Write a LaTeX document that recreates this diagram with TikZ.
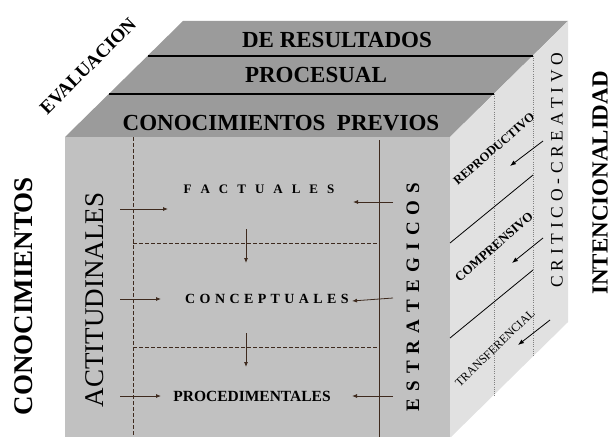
\documentclass[tikz,border=0pt]{standalone}
\usepackage{fontspec}
\setmainfont{Liberation Serif}
\usetikzlibrary{arrows.meta}

\definecolor{topgray}{RGB}{155,155,155}
\definecolor{frontgray}{RGB}{193,193,193}
\definecolor{sidegray}{RGB}{225,225,225}
\definecolor{arrowbrown}{RGB}{62,42,30}

\begin{document}
\begin{tikzpicture}[x=1pt,y=-1pt,
    flow/.style={draw=arrowbrown, line width=0.8pt, -{Latex[length=5pt,width=4pt]}},
    sideflow/.style={draw=black, line width=0.8pt, -{Latex[length=6pt,width=4.5pt]}},
    divider/.style={draw=arrowbrown, line width=0.8pt, dash pattern=on 3.5pt off 2.5pt},
    depthline/.style={draw=gray, line width=0.7pt, dash pattern=on 1pt off 1.2pt},
    toplabel/.style={font=\bfseries\fontsize{23}{27}\selectfont},
    sidelabel/.style={rotate=41, inner sep=0pt}]
    \useasboundingbox (0,0) rectangle (612,436);

    % Draw the three faces of the cube
    \fill[topgray] (65,137) -- (183,21) -- (568,21) -- (450,137) -- cycle;
    \fill[frontgray] (65,137) rectangle (450,438);
    \fill[sidegray] (450,137) -- (568,21) -- (568,322) -- (450,438) -- cycle;

    % Draw the layers of the top face
    \draw[line width=1.1pt] (148,56) -- (533,56);
    \draw[line width=1.1pt] (109,94) -- (494,94);
    \draw[depthline] (533,56) -- (533,357);
    \draw[depthline] (494,94) -- (494,397);

    % Draw the levels of the side face
    \draw[line width=0.8pt] (450,243) -- (533,175);
    \draw[line width=0.8pt] (450,338) -- (533,270);

    % Draw the columns and rows of the front face
    \draw[divider] (133,137) -- (133,438);
    \draw[arrowbrown, line width=0.8pt] (379,140) -- (379,438);
    \draw[divider] (133,243) -- (379,243);
    \draw[divider] (133,347) -- (379,347);

    % Label the top face
    \node[toplabel] (resultados) at (337,40) {DE RESULTADOS};
    \node[toplabel] (procesual) at (316,75) {PROCESUAL};
    \node[toplabel] (previos) at (281,123) {CONOCIMIENTOS\ \ PREVIOS};

    % Label the axes
    \node[rotate=90, font=\bfseries\fontsize{27}{31}\selectfont] (conocimientos) at (24,296) {CONOCIMIENTOS};
    \node[rotate=90, font=\bfseries\fontsize{23}{27}\selectfont] (intencionalidad) at (600,183) {INTENCIONALIDAD};
    \node[rotate=45, font=\bfseries\fontsize{19}{23}\selectfont] (evaluacion) at (88,66) {EVALUACION};

    % Label the front face
    \node[rotate=90, font=\fontsize{27}{31}\selectfont] (actitudinales) at (95,300) {ACTITUDINALES};
    \node[rotate=90, font=\bfseries\fontsize{19}{23}\selectfont] (estrategicos) at (413,297)
        {\spaceskip=7.2pt\relax E S T R A T E G I C O S};
    \node[font=\bfseries\fontsize{13}{15}\selectfont] (factuales) at (259,189)
        {\spaceskip=9pt\relax F A C T U A L E S};
    \node[font=\bfseries\fontsize{14}{16}\selectfont] (conceptuales) at (267,299)
        {\spaceskip=4.4pt\relax C O N C E P T U A L E S};
    \node[font=\bfseries\fontsize{15.5}{18}\selectfont] (procedimentales) at (252,396) {PROCEDIMENTALES};

    % Label the side face
    \node[rotate=90, font=\fontsize{17.5}{21}\selectfont] (critico) at (557,170)
        {\spaceskip=4.7pt\relax C R I T I C O - C R E A T I V O};
    \node[sidelabel, font=\bfseries\fontsize{12.5}{15}\selectfont] (reproductivo) at (494,149) {REPRODUCTIVO};
    \node[sidelabel, font=\bfseries\fontsize{13}{15}\selectfont] (comprensivo) at (494,247) {COMPRENSIVO};
    \node[sidelabel, rotate=3, font=\fontsize{12}{14}\selectfont] (transferencial) at (495,348) {TRANSFERENCIAL};

    % Draw the arrows of the front face
    \coordinate (la1) at (120,209); \coordinate (lb1) at (168,209);
    \coordinate (la2) at (120,299); \coordinate (lb2) at (161,299);
    \coordinate (la3) at (120,396); \coordinate (lb3) at (161,396);
    \coordinate (ra1) at (393,202); \coordinate (rb1) at (353,202);
    \coordinate (ra2) at (393,298); \coordinate (rb2) at (352,301);
    \coordinate (ra3) at (393,396); \coordinate (rb3) at (352,396);
    \coordinate (da1) at (246,229); \coordinate (db1) at (246,263);
    \coordinate (da2) at (246,333); \coordinate (db2) at (246,367);
    \foreach \i in {1,2,3} {
        \draw[flow] (la\i) -- (lb\i);
        \draw[flow] (ra\i) -- (rb\i);
    }
    \draw[flow] (da1) -- (db1);
    \draw[flow] (da2) -- (db2);

    % Draw the arrows of the side face
    \coordinate (sa1) at (543,141); \coordinate (sb1) at (510,166);
    \coordinate (sa2) at (543,238); \coordinate (sb2) at (512,263);
    \coordinate (sa3) at (550,320); \coordinate (sb3) at (518,345);
    \foreach \i in {1,2,3}
        \draw[sideflow] (sa\i) -- (sb\i);
\end{tikzpicture}
\end{document}
